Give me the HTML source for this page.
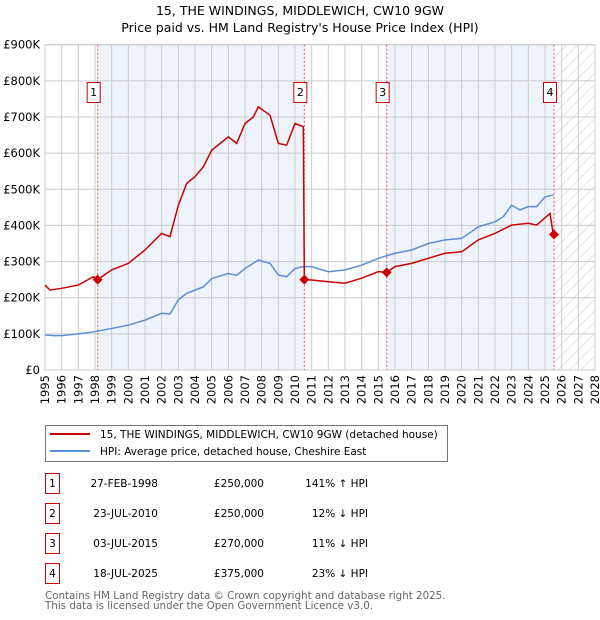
<!DOCTYPE html>
<html><head><meta charset="utf-8"><style>
body{margin:0;width:600px;height:620px;background:#fff;font-family:"DejaVu Sans","Liberation Sans",sans-serif;overflow:hidden}
svg{position:absolute;left:0;top:0}
</style></head><body>
<svg id="c" width="600" height="620"></svg>
<script>
const hpiYears=[1995,1995.5,1996,1997,1998,1999,2000,2001,2002,2002.5,2003,2003.5,2004,2004.5,2005,2006,2006.5,2007,2007.8,2008.5,2009,2009.5,2010,2010.5,2011,2012,2013,2014,2015,2016,2017,2018,2019,2020,2021,2022,2022.5,2023,2023.5,2024,2024.5,2025,2025.5];
const hpiValues=[97,95,95,100,106,115,124,138,157,155,194,212,221,230,253,267,262,281,304,295,263,258,281,286,286,272,277,290,309,323,332,350,360,364,396,410,424,456,443,452,452,479,484];
const redYears=[1995,1995.3,1996,1997,1997.9,1998.16,1999,2000,2001,2002,2002.5,2003,2003.5,2004,2004.5,2005,2006,2006.5,2007,2007.5,2007.8,2008.5,2009,2009.5,2010,2010.5,2010.56,2011,2012,2013,2014,2015,2015.5,2016,2017,2018,2019,2020,2021,2022,2023,2024,2024.5,2025.3,2025.5];
const redValues=[235,221,226,235,258,250,277,295,332,378,369,456,516,535,562,608,645,627,682,700,728,705,627,622,682,673,250,249,244,240,254,272,270,286,295,309,323,327,360,378,401,406,401,433,375];
const saleYears=[1998.16,2010.56,2015.5,2025.54];
const saleValues=[250,250,270,375];
const saleLabels=["1","2","3","4"];
const yTicks=[0,100,200,300,400,500,600,700,800,900];
const yTickLabels=["£0","£100K","£200K","£300K","£400K","£500K","£600K","£700K","£800K","£900K"];
const xTicks=[1995,1996,1997,1998,1999,2000,2001,2002,2003,2004,2005,2006,2007,2008,2009,2010,2011,2012,2013,2014,2015,2016,2017,2018,2019,2020,2021,2022,2023,2024,2025,2026,2027,2028];

const X0=45,X1=595,Y0=370,Y1=44.7;
const xs=y=>X0+(y-1995)/(2028-1995)*(X1-X0);
const ys=v=>Y0-v/900*(Y0-Y1);
const svg=document.getElementById('c');
const NS='http://www.w3.org/2000/svg';
function el(t,a,txt){const e=document.createElementNS(NS,t);for(const k in a)e.setAttribute(k,a[k]);if(txt!==undefined)e.textContent=txt;svg.appendChild(e);return e;}

let t=el('text',{x:300,y:15,'text-anchor':'middle','font-size':'12.5',fill:'#000'},'15, THE WINDINGS, MIDDLEWICH, CW10 9GW');

t=el('text',{x:300,y:32,'text-anchor':'middle','font-size':'12.5',fill:'#000'},"Price paid vs. HM Land Registry's House Price Index (HPI)");


const defs=el('defs',{});
defs.innerHTML='<pattern id="h" width="8" height="8" patternUnits="userSpaceOnUse" patternTransform="rotate(45)"><line x1="0" y1="0" x2="0" y2="8" stroke="#ccc" stroke-width="1"/></pattern>';

let b=el('rect',{x:xs(saleYears[0]),y:Y1,width:xs(saleYears[1])-xs(saleYears[0]),height:Y0-Y1,fill:'#eef3fc'});

b=el('rect',{x:xs(saleYears[2]),y:Y1,width:xs(saleYears[3])-xs(saleYears[2]),height:Y0-Y1,fill:'#eef3fc'});

b=el('rect',{x:xs(saleYears[3]),y:Y1,width:X1-xs(saleYears[3]),height:Y0-Y1,fill:'url(#h)'});


xTicks.forEach(y=>{const l=el('line',{x1:xs(y),x2:xs(y),y1:Y1,y2:Y0,stroke:'#ccc','stroke-width':1});

const tx=el('text',{transform:`translate(${xs(y)+4},375) rotate(-90)`,'text-anchor':'end','font-size':'11.5',fill:'#000'},String(y));
});
yTicks.forEach((v,i)=>{const l=el('line',{x1:X0,x2:X1,y1:ys(v),y2:ys(v),stroke:'#ccc','stroke-width':1});

const tx=el('text',{x:40,y:ys(v)+4,'text-anchor':'end','font-size':'11.5',fill:'#000'},yTickLabels[i]);
});
let fr=el('rect',{x:X0,y:Y1,width:X1-X0,height:Y0-Y1,fill:'none',stroke:'#ccc'});


saleYears.forEach((y,i)=>{const l=el('line',{x1:xs(y),x2:xs(y),y1:Y1,y2:Y0,stroke:'#e55','stroke-width':1,'stroke-dasharray':'2,2'});

const r=el('rect',{x:xs(y)-10.5,y:82.5,width:13,height:20,fill:'#fff',stroke:'#c00'});

const tx=el('text',{x:xs(y)-4,y:96,'text-anchor':'middle','font-size':'11',fill:'#000'},saleLabels[i]);
});

let p=el('polyline',{points:hpiYears.map((y,i)=>xs(y)+','+ys(hpiValues[i])).join(' '),fill:'none',stroke:'#5b8fd4','stroke-width':1.5});

p=el('polyline',{points:redYears.map((y,i)=>xs(y)+','+ys(redValues[i])).join(' '),fill:'none',stroke:'#cc0000','stroke-width':1.5});

saleYears.forEach((y,i)=>{const cx=xs(y),cy=ys(saleValues[i]);
const c=el('polygon',{points:`${cx},${cy-5} ${cx+5},${cy} ${cx},${cy+5} ${cx-5},${cy}`,fill:'#cc0000'});
});

let lg=el('rect',{x:45.5,y:425.5,width:402,height:36,fill:'#fff',stroke:'#777'});

let ll=el('line',{x1:50,x2:90,y1:434,y2:434,stroke:'#cc0000','stroke-width':2});

ll=el('text',{x:100,y:438,'font-size':'10.5',fill:'#000'},'15, THE WINDINGS, MIDDLEWICH, CW10 9GW (detached house)');

ll=el('line',{x1:50,x2:90,y1:451,y2:451,stroke:'#5b8fd4','stroke-width':2});

ll=el('text',{x:100,y:455,'font-size':'10.5',fill:'#000'},'HPI: Average price, detached house, Cheshire East');


const dates=["27-FEB-1998","23-JUL-2010","03-JUL-2015","18-JUL-2025"];
const prices=["£250,000","£250,000","£270,000","£375,000"];
const rel=["141% ↑ HPI","12% ↓ HPI","11% ↓ HPI","23% ↓ HPI"];
dates.forEach((d,i)=>{const yy=483+i*30;
const r=el('rect',{x:45.5,y:yy-9.5,width:14,height:20,fill:'#fff',stroke:'#c00'});

let tx=el('text',{x:52.5,y:yy+4,'text-anchor':'middle','font-size':'10.5',fill:'#000'},saleLabels[i]);

tx=el('text',{x:158,y:yy+4,'text-anchor':'end','font-size':'10.5',fill:'#000'},d);

tx=el('text',{x:264,y:yy+4,'text-anchor':'end','font-size':'10.5',fill:'#000'},prices[i]);

tx=el('text',{x:368,y:yy+4,'text-anchor':'end','font-size':'10.5',fill:'#000'},rel[i]);
});

let f=el('text',{x:45,y:599,'font-size':'10.3',fill:'#666'},'Contains HM Land Registry data © Crown copyright and database right 2025.');

f=el('text',{x:45,y:609,'font-size':'10.3',fill:'#666'},'This data is licensed under the Open Government Licence v3.0.');

</script>
</body></html>
